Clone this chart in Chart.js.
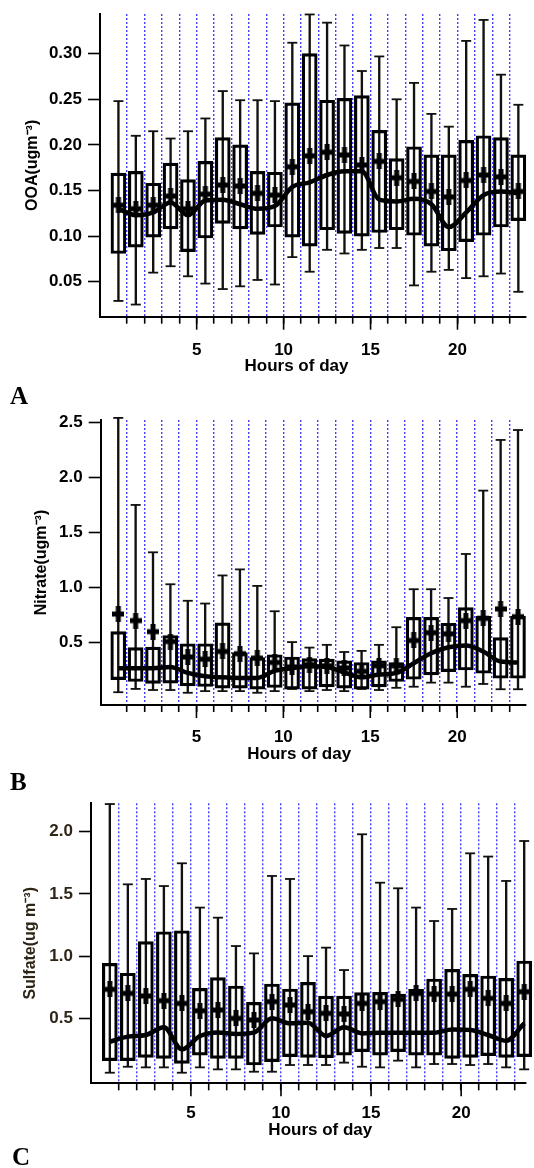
<!DOCTYPE html>
<html><head><meta charset="utf-8">
<script src="https://cdn.jsdelivr.net/npm/chart.js@4.4.1/dist/chart.umd.min.js"></script>
<style>
html,body{margin:0;padding:0;background:#fff;width:534px;height:1168px;overflow:hidden;position:relative;}
canvas{position:absolute;left:0;}
.lbl{position:absolute;left:10px;font:bold 25px "Liberation Serif","Times New Roman",serif;line-height:25px;color:#000;}
</style></head><body>
<canvas id="cA" width="534" height="400" style="top:0px"></canvas>
<canvas id="cB" width="534" height="390" style="top:400px"></canvas>
<canvas id="cC" width="534" height="378" style="top:790px"></canvas>
<div class="lbl" style="top:383px">A</div>
<div class="lbl" style="top:769px">B</div>
<div class="lbl" style="top:1144px;left:12px">C</div>
<script>
// ---------- categories / ticks ----------
const hours = [0.5,1.5,2.5,3.5,4.5,5.5,6.5,7.5,8.5,9.5,10.5,11.5,12.5,13.5,14.5,15.5,16.5,17.5,18.5,19.5,20.5,21.5,22.5,23.5];
const hourTicks = [1,2,3,4,5,6,7,8,9,10,11,12,13,14,15,16,17,18,19,20,21,22,23];
const majorHours = [5,10,15,20];
const ticksA = [0.05,0.10,0.15,0.20,0.25,0.30];
const ticksB = [0.5,1.0,1.5,2.0,2.5];
const ticksC = [0.5,1.0,1.5,2.0];

// ---------- A: OOA ----------
const ooaMax  = [0.248,0.210,0.215,0.207,0.215,0.229,0.259,0.249,0.249,0.248,0.312,0.343,0.334,0.309,0.281,0.297,0.250,0.268,0.234,0.220,0.314,0.337,0.277,0.244];
const ooaQ3   = [0.169,0.171,0.158,0.180,0.162,0.182,0.208,0.200,0.171,0.170,0.246,0.300,0.249,0.251,0.254,0.216,0.185,0.198,0.189,0.189,0.205,0.210,0.208,0.189];
const ooaQ1   = [0.081,0.088,0.099,0.108,0.083,0.098,0.114,0.108,0.102,0.110,0.099,0.089,0.107,0.103,0.100,0.104,0.107,0.101,0.089,0.084,0.094,0.101,0.110,0.117];
const ooaMin  = [0.029,0.025,0.060,0.067,0.056,0.048,0.042,0.045,0.052,0.047,0.077,0.061,0.085,0.081,0.085,0.087,0.087,0.046,0.061,0.063,0.054,0.056,0.059,0.039];
const ooaMean = [0.134,0.130,0.134,0.144,0.130,0.146,0.156,0.155,0.147,0.145,0.176,0.188,0.192,0.189,0.178,0.182,0.164,0.160,0.149,0.143,0.161,0.167,0.165,0.149];
const ooaLine = [0.130,0.123,0.126,0.137,0.123,0.139,0.140,0.135,0.130,0.133,0.154,0.159,0.167,0.171,0.171,0.140,0.138,0.141,0.135,0.110,0.126,0.145,0.149,0.147];

// ---------- B: Nitrate ----------
const nitMax  = [2.54,1.75,1.32,1.03,0.88,0.855,1.11,1.165,1.015,0.785,0.505,0.455,0.48,0.415,0.425,0.48,0.64,0.985,0.985,0.905,1.305,1.88,2.34,2.43];
const nitQ3   = [0.60,0.455,0.46,0.565,0.49,0.49,0.68,0.41,0.365,0.39,0.37,0.355,0.35,0.335,0.32,0.335,0.32,0.73,0.73,0.676,0.818,0.74,0.545,0.742];
const nitQ1   = [0.165,0.147,0.13,0.132,0.108,0.102,0.087,0.087,0.078,0.093,0.078,0.078,0.099,0.087,0.078,0.099,0.147,0.168,0.207,0.237,0.252,0.222,0.177,0.177];
const nitMin  = [0.05,0.08,0.07,0.07,0.045,0.06,0.06,0.06,0.045,0.06,0.08,0.06,0.07,0.06,0.08,0.07,0.09,0.10,0.137,0.137,0.10,0.125,0.077,0.077];
const nitMean = [0.76,0.70,0.60,0.51,0.37,0.35,0.42,0.40,0.36,0.32,0.28,0.30,0.29,0.27,0.24,0.29,0.29,0.52,0.59,0.58,0.70,0.72,0.806,0.736];
const nitLine = [0.268,0.268,0.268,0.28,0.225,0.195,0.185,0.18,0.18,0.244,0.268,0.285,0.278,0.23,0.185,0.21,0.225,0.313,0.404,0.458,0.475,0.419,0.328,0.32];

// ---------- C: Sulfate ----------
const sulMax  = [2.222,1.577,1.62,1.563,1.746,1.39,1.309,1.081,1.022,1.644,1.62,1.0,1.068,0.888,1.979,1.59,1.545,1.39,1.282,1.379,1.826,1.8,1.604,1.925];
const sulQ3   = [0.942,0.862,1.116,1.196,1.204,0.741,0.827,0.76,0.628,0.776,0.736,0.789,0.679,0.679,0.706,0.709,0.695,0.733,0.816,0.894,0.853,0.84,0.821,0.961];
const sulQ1   = [0.16,0.16,0.186,0.178,0.138,0.205,0.178,0.178,0.125,0.152,0.192,0.186,0.184,0.205,0.232,0.205,0.232,0.205,0.205,0.178,0.186,0.2,0.186,0.192];
const sulMin  = [0.063,0.111,0.106,0.106,0.063,0.106,0.09,0.09,0.071,0.071,0.125,0.125,0.125,0.144,0.111,0.106,0.16,0.106,0.133,0.133,0.125,0.133,0.106,0.09];
const sulMean = [0.733,0.701,0.68,0.642,0.62,0.561,0.567,0.50,0.487,0.634,0.607,0.553,0.54,0.535,0.62,0.634,0.653,0.70,0.695,0.695,0.733,0.661,0.62,0.714];
const sulLine = [0.312,0.353,0.366,0.428,0.25,0.358,0.387,0.374,0.385,0.50,0.46,0.465,0.358,0.428,0.379,0.385,0.385,0.385,0.385,0.41,0.406,0.366,0.32,0.46];

Chart.defaults.font.family = '"Liberation Sans", Arial, sans-serif';
Chart.defaults.font.weight = 'bold';
Chart.defaults.font.size = 16;

// thick plus marker used as point style for the means
const plusMarker = document.createElement('canvas');
plusMarker.width = 12; plusMarker.height = 16;
(function () {
  const g = plusMarker.getContext('2d');
  g.fillStyle = '#000';
  g.fillRect(0, 5.5, 12, 5);
  g.fillRect(3.5, 0, 5, 16);
})();

const majorTickPlugin = {
  id: 'majorTicks',
  afterDraw(chart) {
    const s = chart.scales.x, ctx = chart.ctx;
    ctx.save();
    ctx.strokeStyle = '#000';
    ctx.lineWidth = 1.6;
    majorHours.forEach(h => {
      const px = s.getPixelForValue(h);
      ctx.beginPath(); ctx.moveTo(px, s.top); ctx.lineTo(px, s.top + 13); ctx.stroke();
    });
    ctx.restore();
  }
};

function makeChart(id, p) {
  const whiskers = hours.map((h, i) => ({x: h, y: [p.min[i], p.max[i]]}));
  const caps = hours.map((h, i) => ({x: h, y: p.min[i]})).concat(hours.map((h, i) => ({x: h, y: p.max[i]})));
  const boxes = hours.map((h, i) => ({x: h, y: [p.q1[i], p.q3[i]]}));
  const trend = hours.map((h, i) => ({x: h, y: p.line[i]}));
  const means = hours.map((h, i) => ({x: h, y: p.mean[i]}));
  const L = p.layout;
  return new Chart(document.getElementById(id), {
    type: 'bar',
    data: {
      datasets: [
        {type: 'bar', label: 'range', data: whiskers, backgroundColor: '#111', borderWidth: 0,
         barPercentage: 1, categoryPercentage: 1, maxBarThickness: 1.7, grouped: false, order: 5, clip: false},
        {type: 'line', label: 'caps', data: caps, showLine: false, pointStyle: 'line', pointRadius: 5,
         pointBorderWidth: 1.8, pointBorderColor: '#111', pointBackgroundColor: '#111', order: 4, clip: false},
        {type: 'bar', label: 'box', data: boxes, backgroundColor: 'rgba(0,0,0,0)', borderColor: '#000',
         borderWidth: 2.5, borderSkipped: false, barPercentage: 1, categoryPercentage: 1, maxBarThickness: 15,
         grouped: false, order: 3, clip: false},
        {type: 'line', label: 'trend', data: trend, borderColor: '#000', borderWidth: 4.5, pointRadius: 0,
         cubicInterpolationMode: 'monotone', fill: false, order: 2, clip: false},
        {type: 'line', label: 'mean', data: means, showLine: false, pointStyle: plusMarker, pointRadius: 7,
         order: 1, clip: false}
      ]
    },
    options: {
      responsive: false, animation: false, devicePixelRatio: 1,
      layout: {padding: {top: L.top, left: 0, right: 0, bottom: 0}},
      plugins: {legend: {display: false}, tooltip: {enabled: false}},
      events: [],
      scales: {
        x: {
          type: 'linear', min: L.xMin, max: L.xMax, offset: false,
          afterBuildTicks: s => { s.ticks = hourTicks.map(v => ({value: v})); },
          ticks: {autoSkip: false, maxRotation: 0, minRotation: 0, padding: L.labelPad, color: '#000',
                  font: {size: 17, weight: 'bold'},
                  callback: v => (majorHours.includes(v) ? String(v) : '')},
          grid: {display: true, drawOnChartArea: true, offset: false, color: '#3f3fff', lineWidth: 1.4,
                 drawTicks: true, tickLength: 7, tickColor: '#000', tickWidth: 1.6, tickBorderDash: []},
          border: {display: true, color: '#000', width: 2, dash: [2, 2]},
          title: {display: true, text: L.xTitle, color: '#000', font: {size: 17, weight: 'bold'},
                  padding: {top: 0, bottom: L.titlePad}},
          afterFit: s => { s.height = L.xHeight; s.paddingLeft = 0; s.paddingRight = 0; }
        },
        y: {
          type: 'linear', min: L.yMin, max: L.yMax,
          afterBuildTicks: s => { s.ticks = p.ticks.map(v => ({value: v})); },
          ticks: {padding: 6, color: L.textColor, font: {size: 17, weight: 'bold'},
                  callback: v => Number(v).toFixed(p.decimals)},
          grid: {display: true, drawOnChartArea: false, drawTicks: true, tickLength: 12, tickColor: '#000', tickWidth: 1.6},
          border: {display: true, color: '#000', width: 2},
          title: {display: true, text: p.title, color: L.textColor, font: {size: 16, weight: 'bold'},
                  padding: {top: L.yTitlePad, bottom: 0}},
          afterFit: s => { s.width = L.yWidth; s.paddingTop = 0; s.paddingBottom = 0; }
        }
      }
    },
    plugins: [majorTickPlugin]
  });
}

makeChart('cA', {min: ooaMin, q1: ooaQ1, q3: ooaQ3, max: ooaMax, mean: ooaMean, line: ooaLine,
  ticks: ticksA, decimals: 2, title: 'OOA(ugm\u207B\u00B3)',
  layout: {top: 14, yWidth: 100, xHeight: 83.3, xMin: -0.56, xMax: 23.94, yMin: 0.0117, yMax: 0.3435,
           labelPad: 16.1, titlePad: 23, yTitlePad: 23.4, textColor: '#000', xTitle: 'Hours of day       '}});

makeChart('cB', {min: nitMin, q1: nitQ1, q3: nitQ3, max: nitMax, mean: nitMean, line: nitLine,
  ticks: ticksB, decimals: 1, title: 'Nitrate(ugm\u207B\u00B3)',
  layout: {top: 20, yWidth: 100.7, xHeight: 85, xMin: -0.51, xMax: 23.96, yMin: -0.066, yMax: 2.521,
           labelPad: 14.8, titlePad: 25.8, yTitlePad: 32.4, textColor: '#000', xTitle: 'Hours of day      '}});

makeChart('cC', {min: sulMin, q1: sulQ1, q3: sulQ3, max: sulMax, mean: sulMean, line: sulLine,
  ticks: ticksC, decimals: 1, title: 'Sulfate(ug m\u207B\u00B3)',
  layout: {top: 13.3, yWidth: 91, xHeight: 84.7, xMin: -0.545, xMax: 23.6, yMin: -0.022, yMax: 2.228,
           labelPad: 12.8, titlePad: 27.8, yTitlePad: 21.4, textColor: '#2e2516', xTitle: '     Hours of day'}});
</script>
</body></html>
